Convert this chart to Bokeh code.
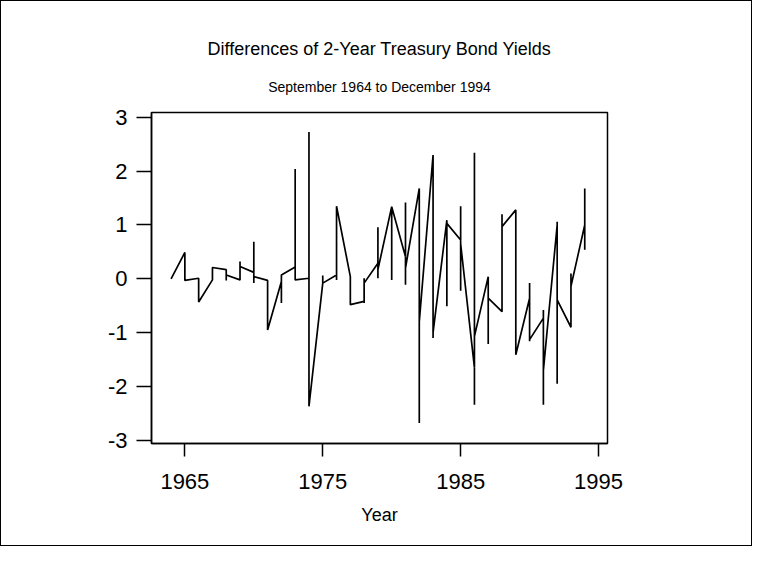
from bokeh.plotting import figure
from bokeh.models import Range1d, FixedTicker, Title
from bokeh.embed import file_html
from bokeh.resources import INLINE

# Per-year summary of the plotted path (x = year, several monthly values share one x)
years = [1964, 1965, 1966, 1967, 1968, 1969, 1970, 1971, 1972, 1973, 1974, 1975,
         1976, 1977, 1978, 1979, 1980, 1981, 1982, 1983, 1984, 1985, 1986, 1987,
         1988, 1989, 1990, 1991, 1992, 1993, 1994]
first = [0.00, 0.49, 0.01, -0.02, 0.17, -0.02, 0.12, -0.03, -0.05, 0.22, 0.01, -0.08,
         0.07, 0.04, -0.42, 0.29, 1.34, 0.41, 1.68, 2.30, 1.09, 0.72, -1.65, 0.04,
         -0.61, 1.28, -0.36, -0.73, 1.00, -0.90, 1.00]
high = [0.00, 0.49, 0.01, 0.21, 0.17, 0.32, 0.69, -0.03, 0.07, 2.04, 2.73, 0.06,
        1.35, 0.04, 0.01, 0.96, 1.34, 1.42, 1.68, 2.30, 1.09, 1.35, 2.34, 0.04,
        1.20, 1.28, -0.08, -0.58, 1.06, 0.10, 1.68]
low = [0.00, -0.03, -0.43, -0.02, -0.03, -0.02, -0.08, -0.95, -0.45, -0.02, -2.37, -0.08,
       -0.02, -0.48, -0.45, 0.01, -0.02, -0.11, -2.68, -1.10, -0.51, -0.22, -2.34, -1.21,
       -0.61, -1.41, -1.16, -2.34, -1.95, -0.90, 0.54]
last = [0.00, -0.03, -0.43, 0.21, 0.07, 0.23, 0.04, -0.95, 0.07, -0.02, -2.37, -0.08,
        1.35, -0.48, -0.08, 0.17, 1.34, 0.20, -0.80, -1.00, 1.03, 0.65, -1.07, -0.36,
        0.97, -1.41, -1.13, -1.70, -0.39, -0.14, 0.54]

x_ticks = [1965, 1975, 1985, 1995]
y_ticks = [-3, -2, -1, 0, 1, 2, 3]
title_text = "Differences of 2-Year Treasury Bond Yields"
subtitle_text = "September 1964 to December 1994"
x_label = "Year"

xs, ys = [], []
for yr, a, h, l, b in zip(years, first, high, low, last):
    for v in (a, h, l, b):
        xs.append(yr)
        ys.append(v)

FONT = "Liberation Sans"

p = figure(width=752, height=546, output_backend="svg", toolbar_location=None,
           x_range=Range1d(1962.58, 1995.65), y_range=Range1d(-3.06, 3.09),
           min_border_left=150, min_border_right=146, min_border_top=111, min_border_bottom=104)
p.styles = {"border": "1px solid #000"}

p.line(xs, ys, line_color="black", line_width=1.7)

p.xgrid.visible = False
p.ygrid.visible = False
p.outline_line_color = "black"
p.outline_line_width = 1.5
p.background_fill_color = "white"
p.border_fill_color = "white"

for ax in (p.xaxis[0], p.yaxis[0]):
    ax.axis_line_color = "black"
    ax.axis_line_width = 1.5
    ax.major_tick_line_color = "black"
    ax.major_tick_line_width = 1.5
    ax.minor_tick_line_color = None
    ax.major_tick_in = 0
    ax.major_label_text_font = FONT
    ax.major_label_text_font_size = "22px"
    ax.major_label_text_color = "black"

p.xaxis.ticker = FixedTicker(ticks=x_ticks)
p.yaxis.ticker = FixedTicker(ticks=y_ticks)
p.yaxis.major_label_overrides = {t: str(t) for t in y_ticks}
p.xaxis.major_tick_out = 13
p.yaxis.major_tick_out = 15
p.xaxis.major_label_standoff = 17
p.yaxis.major_label_standoff = 9
p.xaxis.axis_label = x_label
p.xaxis.axis_label_text_font = FONT
p.xaxis.axis_label_text_font_size = "18px"
p.xaxis.axis_label_text_font_style = "normal"
p.xaxis.axis_label_text_color = "black"
p.xaxis.axis_label_standoff = 13

p.add_layout(Title(text=subtitle_text, align="center", text_font=FONT,
                   text_font_size="14px", text_font_style="normal",
                   text_color="black", standoff=36), "above")
p.add_layout(Title(text=title_text, align="center", text_font=FONT,
                   text_font_size="18px", text_font_style="normal",
                   text_color="black", standoff=0), "above")

open("out.html", "w").write(file_html(p, INLINE))
